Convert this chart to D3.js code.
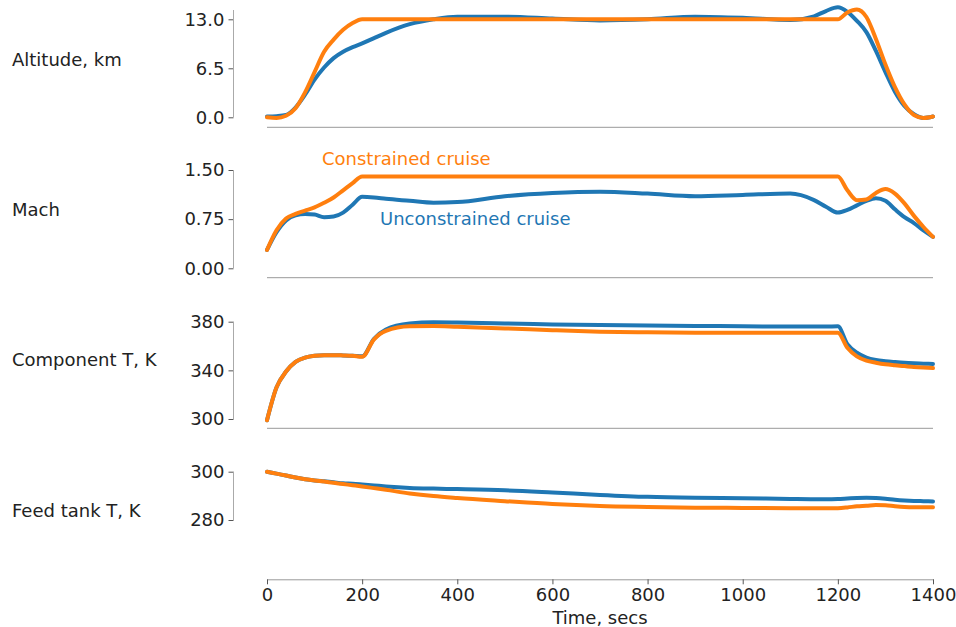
<!DOCTYPE html>
<html>
<head>
<meta charset="utf-8">
<script src="https://cdn.jsdelivr.net/npm/d3@7"></script>
<style>
  body { margin: 0; background: #fff; }
  text { font-family: "DejaVu Sans", sans-serif; fill: #222; }
</style>
</head>
<body>
<div id="chart"></div>
<script>
// shared time grid, secs
var times = [0, 20, 40, 60, 80, 100, 120, 140, 160, 180, 200, 225, 250, 300, 350, 400, 500, 600, 700, 800, 900, 1000, 1100, 1150, 1175, 1200, 1220, 1240, 1260, 1280, 1300, 1320, 1340, 1360, 1380, 1400];

var altUnconstrained = [0.1, 0.15, 0.3, 1.3, 3.0, 5.0, 6.6, 7.85, 8.7, 9.3, 9.8, 10.5, 11.2, 12.35, 13.0, 13.35, 13.35, 13.1, 12.85, 13.0, 13.35, 13.2, 12.9, 13.4, 14.1, 14.6, 14.0, 12.8, 11.3, 8.8, 6.0, 3.4, 1.5, 0.4, -0.1, 0.1];
var altConstrained = [0.0, -0.1, 0.2, 1.2, 3.3, 6.0, 8.7, 10.3, 11.6, 12.5, 13.0, 13.0, 13.0, 13.0, 13.0, 13.0, 13.0, 13.0, 13.0, 13.0, 13.0, 13.0, 13.0, 13.0, 13.0, 13.0, 13.9, 14.3, 13.3, 10.4, 7.0, 4.0, 1.7, 0.3, -0.1, 0.1];

var machUnconstrained = [0.28, 0.55, 0.73, 0.81, 0.83, 0.82, 0.78, 0.79, 0.85, 0.97, 1.09, 1.08, 1.06, 1.03, 1.00, 1.01, 1.10, 1.15, 1.17, 1.14, 1.10, 1.12, 1.14, 1.04, 0.94, 0.85, 0.89, 0.96, 1.03, 1.07, 1.03, 0.90, 0.78, 0.69, 0.58, 0.48];
var machConstrained = [0.28, 0.58, 0.76, 0.83, 0.88, 0.93, 1.00, 1.08, 1.19, 1.30, 1.40, 1.40, 1.40, 1.40, 1.40, 1.40, 1.40, 1.40, 1.40, 1.40, 1.40, 1.40, 1.40, 1.40, 1.40, 1.40, 1.19, 1.04, 1.05, 1.15, 1.21, 1.14, 0.99, 0.80, 0.63, 0.48];

var compUnconstrained = [299, 326, 339, 347, 350.5, 352, 352.5, 352.5, 352.3, 352, 351.5, 366, 373.5, 378.5, 379.5, 379.3, 378.6, 377.8, 377.2, 376.8, 376.5, 376.3, 376, 376, 376, 376.2, 361.5, 354.5, 350.5, 348.5, 347.5, 346.8, 346.2, 345.8, 345.5, 345.2];
var compConstrained = [299, 326, 339, 347, 350.5, 352, 352.5, 352.5, 352.3, 352, 351.2, 365.5, 372.5, 376.2, 376.4, 375.8, 374.5, 373, 371.8, 371.3, 371, 371, 371, 371, 371, 371, 358.5, 351.5, 348, 346.3, 345, 344.2, 343.5, 342.8, 342.3, 341.9];

var tankUnconstrained = [300, 299.2, 298.4, 297.6, 296.9, 296.4, 296, 295.6, 295.2, 295, 294.7, 294.3, 293.9, 293.3, 293, 292.8, 292.3, 291.4, 290.4, 289.6, 289.2, 289, 288.7, 288.6, 288.6, 288.7, 288.9, 289.1, 289.2, 289.1, 288.8, 288.4, 288.1, 287.9, 287.8, 287.7];
var tankConstrained = [300, 299.2, 298.4, 297.6, 296.9, 296.4, 295.9, 295.4, 294.9, 294.4, 293.9, 293.2, 292.5, 291, 289.9, 289.1, 287.8, 286.6, 285.8, 285.4, 285.1, 285, 284.9, 284.9, 284.9, 284.9, 285.2, 285.7, 285.9, 286.2, 286.1, 285.7, 285.4, 285.3, 285.3, 285.3];

var panelLabels = ["Altitude, km", "Mach", "Component T, K", "Feed tank T, K"];
var panelTicks = [[0, 6.5, 13], [0, 0.75, 1.5], [300, 340, 380], [280, 300]];
var panelFormats = [".1f", ".2f", "d", "d"];
var timeTicks = [0, 200, 400, 600, 800, 1000, 1200, 1400];

var W = 956, H = 627;
var blue = "#1f77b4", orange = "#ff7f0e";

// pixel layout of each panel: tick range, spine top, bottom rule
var panels = [
  { blue: altUnconstrained,  orange: altConstrained,  y0: 117.3, y1: 19.3,  spineTop: 10,    rule: 127.3, labelY: 66 },
  { blue: machUnconstrained, orange: machConstrained, y0: 268.3, y1: 170,   spineTop: 170,   rule: 277.7, labelY: 216 },
  { blue: compUnconstrained, orange: compConstrained, y0: 419,   y1: 321.7, spineTop: 321.7, rule: 428.3, labelY: 366 },
  { blue: tankUnconstrained, orange: tankConstrained, y0: 520,   y1: 471.7, spineTop: 471.7, rule: 579.3, labelY: 517 }
];

var svg = d3.select("#chart").append("svg")
    .attr("width", W)
    .attr("height", H);

var x = d3.scaleLinear().domain([0, 1400]).range([267, 933]);
var spineX = 233.5;

panels.forEach(function(p, i) {
  var ticks = panelTicks[i];
  var y = d3.scaleLinear()
      .domain([ticks[0], ticks[ticks.length - 1]])
      .range([p.y0, p.y1]);

  // left axis
  var g = svg.append("g").attr("transform", "translate(" + spineX + ",0)");
  g.call(d3.axisLeft(y).tickValues(ticks).tickFormat(d3.format(panelFormats[i])).tickSize(5).tickPadding(4).tickSizeOuter(0));
  g.select(".domain").remove();
  g.selectAll(".tick line").attr("stroke", "#555");
  g.selectAll(".tick text").style("font-size", "18px").attr("fill", "#222");
  g.append("line")
      .attr("x1", 0).attr("x2", 0)
      .attr("y1", p.spineTop).attr("y2", p.y0)
      .attr("stroke", "#aaa");

  // bottom rule
  if (i < 3) {
    svg.append("line")
        .attr("x1", x(0)).attr("x2", x(1400))
        .attr("y1", p.rule).attr("y2", p.rule)
        .attr("stroke", "#999");
  } else {
    var xg = svg.append("g").attr("transform", "translate(0," + p.rule + ")");
    xg.call(d3.axisBottom(x).tickValues(timeTicks).tickFormat(d3.format("d")).tickSize(5).tickPadding(4).tickSizeOuter(0));
    xg.select(".domain").attr("stroke", "#999");
    xg.selectAll(".tick line").attr("stroke", "#555");
    xg.selectAll(".tick text").style("font-size", "18px").attr("fill", "#222");
  }

  var line = d3.line()
      .x(function(d, j) { return x(times[j]); })
      .y(function(d) { return y(d); })
      .curve(d3.curveMonotoneX);

  svg.append("path").datum(p.blue)
      .attr("d", line).attr("fill", "none")
      .attr("stroke", blue).attr("stroke-width", 4)
      .attr("stroke-linejoin", "round").attr("stroke-linecap", "round");
  svg.append("path").datum(p.orange)
      .attr("d", line).attr("fill", "none")
      .attr("stroke", orange).attr("stroke-width", 4)
      .attr("stroke-linejoin", "round").attr("stroke-linecap", "round");

  svg.append("text")
      .attr("x", 12).attr("y", p.labelY)
      .style("font-size", "18px")
      .text(panelLabels[i]);
});

// series annotations
svg.append("text")
    .attr("x", 322).attr("y", 165)
    .style("font-size", "18px").style("fill", orange)
    .text("Constrained cruise");
svg.append("text")
    .attr("x", 380).attr("y", 225)
    .style("font-size", "18px").style("fill", blue)
    .text("Unconstrained cruise");

svg.append("text")
    .attr("x", x(700)).attr("y", 624)
    .attr("text-anchor", "middle")
    .style("font-size", "18px")
    .text("Time, secs");
</script>
</body>
</html>
